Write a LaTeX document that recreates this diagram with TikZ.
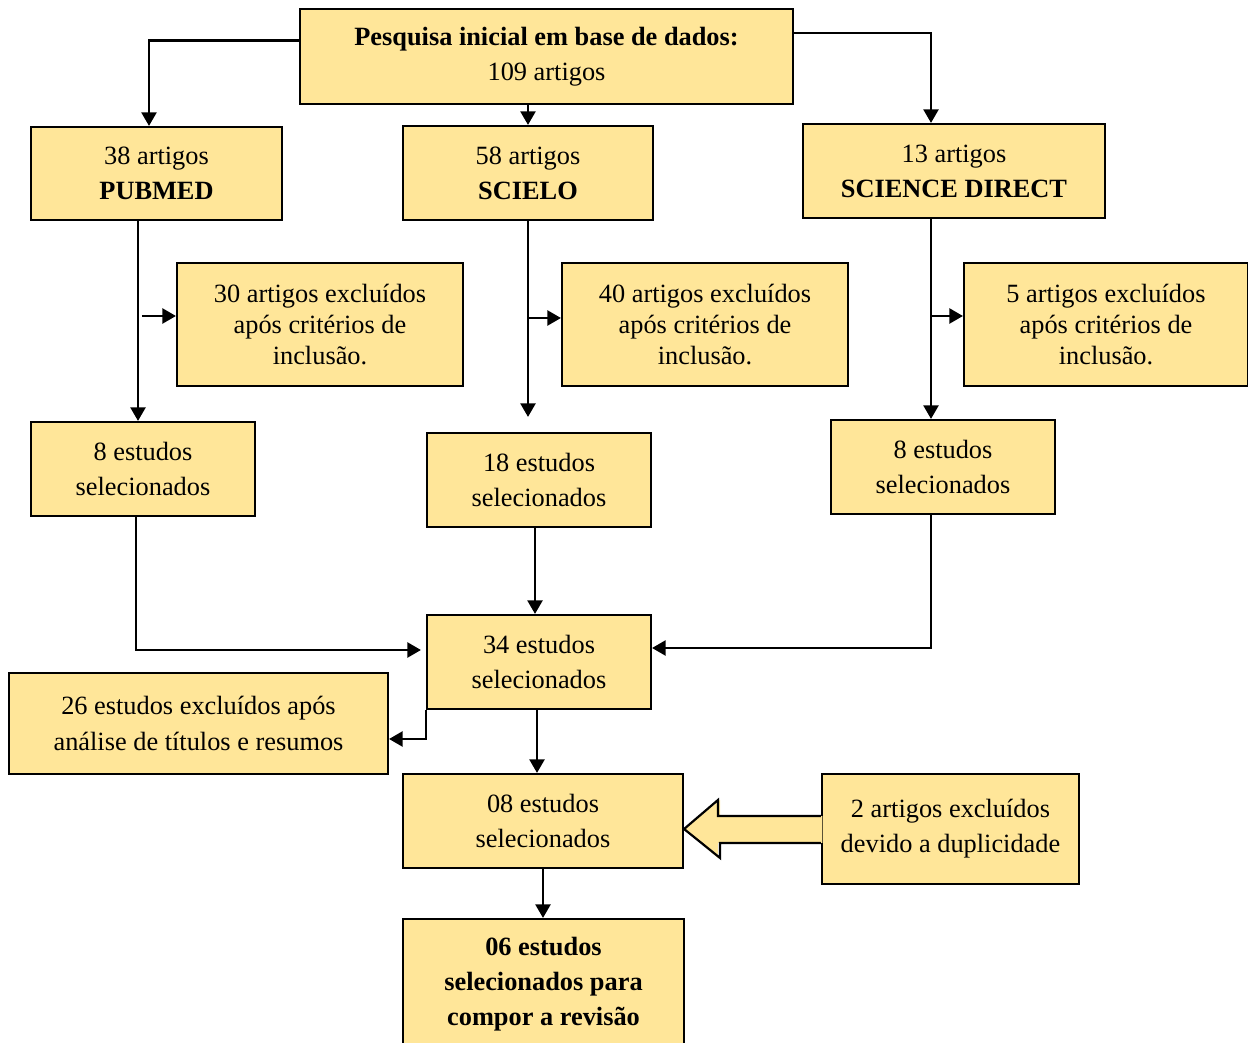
\documentclass[tikz,border=0pt]{standalone}
\usepackage{fontspec}
\setmainfont{Liberation Serif}
\definecolor{caixa}{HTML}{FFE699}
\usetikzlibrary{arrows.meta}

\begin{document}
\begin{tikzpicture}[x=0.02cm,y=-0.02cm,font=\fontsize{15}{20}\selectfont,>={Triangle[length=2.7mm,width=3mm]},
box/.style={rectangle,draw=black,fill=caixa,line width=1.25pt,align=center,inner sep=2pt},
exc/.style={box,font=\fontsize{15}{17.5}\selectfont,minimum width=5.72cm,minimum height=2.46cm},
sel/.style={box,minimum width=4.48cm,minimum height=1.88cm},
flow/.style={->,line width=1.25pt,draw=black}]
\clip (0,0) rectangle (1248,1043);

\node[box,minimum width=9.86cm,minimum height=1.9cm] (top) at (546.5,56.5) {\textbf{Pesquisa inicial em base de dados:}\\109 artigos};

\node[box,minimum width=5.02cm,minimum height=1.86cm] (pub) at (156.5,173.5) {38 artigos\\\textbf{PUBMED}};
\node[box,minimum width=5cm,minimum height=1.88cm] (sci) at (528,173) {58 artigos\\\textbf{SCIELO}};
\node[box,minimum width=6.04cm,minimum height=1.88cm] (sd) at (954,171) {13 artigos\\\textbf{SCIENCE DIRECT}};

\node[exc] (ex1) at (320,324.5) {30 artigos excluídos\\após critérios de\\inclusão.};
\node[exc] (ex2) at (705,324.5) {40 artigos excluídos\\após critérios de\\inclusão.};
\node[exc,minimum width=5.68cm] (ex3) at (1106,324.5) {5 artigos excluídos\\após critérios de\\inclusão.};

\node[sel] (s8a) at (143,469) {8 estudos\\selecionados};
\node[sel] (s18) at (539,480) {18 estudos\\selecionados};
\node[sel] (s8b) at (943,467) {8 estudos\\selecionados};

\node[sel] (s34) at (539,662) {34 estudos\\selecionados};
\node[box,minimum width=7.58cm,minimum height=2.02cm] (ex26) at (198.5,723.5) {26 estudos excluídos após\\análise de títulos e resumos};

\node[box,minimum width=5.6cm,minimum height=1.88cm] (s08) at (543,821) {08 estudos\\selecionados};
\node[box,minimum width=5.14cm,minimum height=2.2cm] (dup) at (950.5,829) {2 artigos excluídos\\devido a duplicidade};

\node[box,minimum width=5.62cm,minimum height=2.6cm] (fin) at (543.5,984) {\textbf{06 estudos}\\\textbf{selecionados para}\\\textbf{compor a revisão}};

\draw[flow] ([yshift=0.32cm]top.west) -| ([xshift=-0.15cm]pub.north);
\draw[flow] (top.south -| sci.north) -- (sci.north);
\draw[flow] ([yshift=0.47cm]top.east) -| ([xshift=-0.46cm]sd.north);

\draw[flow] ([xshift=-0.37cm]pub.south) -- ([xshift=-0.37cm]pub.south |- s8a.north);
\draw[flow] ([xshift=-0.68cm,yshift=0.17cm]ex1.west) -- ([yshift=0.17cm]ex1.west);

\coordinate (sfim) at ([yshift=0.3cm]s18.north -| sci.south);
\draw[flow] (sci.south) -- (sfim);
\draw[flow] ([yshift=0.13cm]sci.south |- ex2.west) -- ([yshift=0.13cm]ex2.west);

\draw[flow] ([xshift=-0.46cm]sd.south) -- ([xshift=-0.46cm]sd.south |- s8b.north);
\draw[flow] ([xshift=-0.46cm,yshift=0.17cm]sd.south |- ex3.west) -- ([yshift=0.17cm]ex3.west);

\draw[flow] ([xshift=-0.14cm]s8a.south) |- ([xshift=-0.1cm,yshift=0.24cm]s34.west);
\draw[flow] ([xshift=-0.08cm]s18.south) -- ([xshift=-0.08cm]s34.north);
\draw[flow] ([xshift=-0.24cm]s8b.south) |- ([yshift=0.28cm]s34.east);

\draw[flow] (s34.south west) |- ([yshift=-0.31cm]ex26.east);
\draw[flow] ([xshift=-0.04cm]s34.south) -- ([xshift=-0.04cm]s34.south |- s08.north);
\draw[flow] (s08.south) -- (s08.south |- fin.north);

\coordinate (tip) at (s08.east |- dup.west);
\fill[caixa] (tip) -- ++(0.72cm,0.58cm) -- ++(0,-0.32cm) -- ([xshift=0.03cm,yshift=0.26cm]dup.west)
  -- ([xshift=0.03cm,yshift=-0.28cm]dup.west) -- ++(-2.09cm,0) -- ++(0,-0.3cm) -- cycle;
\draw[line width=1.25pt,line join=miter] ([yshift=0.26cm]dup.west) -- ++(-2.06cm,0) -- ++(0,0.32cm) -- (tip)
  -- ++(0.72cm,-0.58cm) -- ++(0,0.3cm) -- ([yshift=-0.28cm]dup.west);
\end{tikzpicture}
\end{document}
